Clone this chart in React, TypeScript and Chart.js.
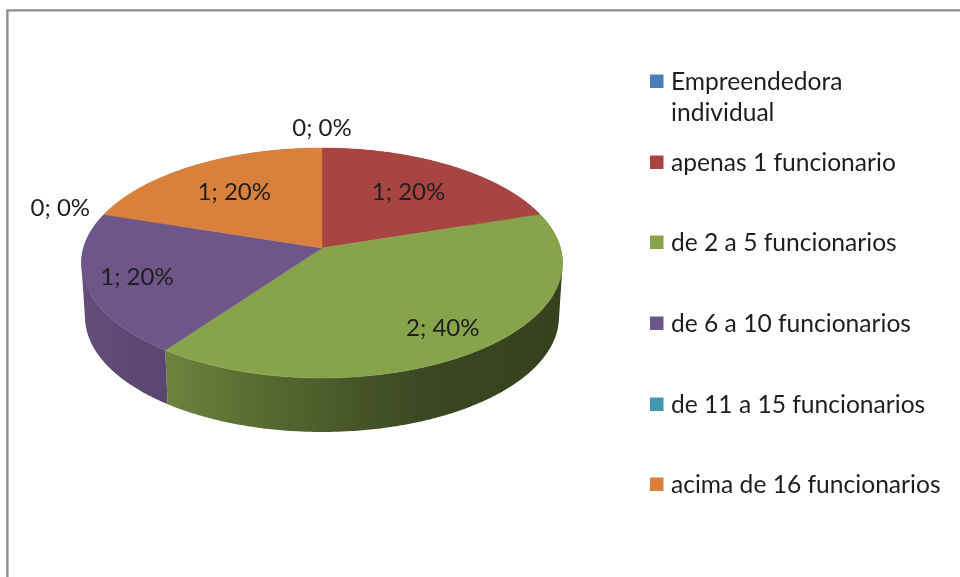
import { useEffect, useRef } from "react";
import { Chart, registerables } from "chart.js";

Chart.register(...registerables);

// Workforce-size categories and how many companies fall in each one.
const categories: (string | string[])[] = [
  ["Empreendedora", "individual"],
  "apenas 1 funcionario",
  "de 2 a 5 funcionarios",
  "de 6 a 10 funcionarios",
  "de 11 a 15 funcionarios",
  "acima de 16 funcionarios",
];
const companies = [0, 1, 2, 1, 0, 1];
const sliceColors = ["#4a7ebb", "#a84542", "#87a44c", "#6f5689", "#4198af", "#d9813c"];

const FONT = "Lato, 'Open Sans', sans-serif";
const TEXT_COLOR = "#1e1e1e";

// Perspective view of the flat pie: tilt flattens it, nearFactor enlarges the side facing the viewer.
const view = { squash: 0.4738, nearFactor: 0.1304, depth: 54, floorScale: 0.985 };
// Distance of each value label from the centre, as a share of the radius.
const labelReach = [1.24, 0.66, 0.79, 0.79, 1.21, 0.67];
// Brightness of the side wall from left to right.
const wallShade: [number, number][] = [
  [0, 0.9],
  [0.18, 0.8],
  [0.37, 0.65],
  [0.58, 0.52],
  [0.72, 0.43],
  [1, 0.4],
];

function shade(hex: string, f: number) {
  const n = parseInt(hex.slice(1), 16);
  const c = [(n >> 16) & 255, (n >> 8) & 255, n & 255].map((v) => Math.round(v * f));
  return `rgb(${c[0]},${c[1]},${c[2]})`;
}

const pie3d = {
  id: "pie3d",
  beforeDraw(chart: any) {
    // Sheet frame, open to the right and bottom.
    const { ctx, width, height } = chart;
    ctx.save();
    ctx.strokeStyle = "#8c8c8c";
    ctx.lineWidth = 2.4;
    ctx.beginPath();
    ctx.moveTo(7.4, height);
    ctx.lineTo(7.4, 10.4);
    ctx.lineTo(width, 10.4);
    ctx.stroke();
    ctx.restore();
  },
  beforeDatasetDraw(chart: any) {
    const { ctx } = chart;
    const arcs = chart.getDatasetMeta(0).data;
    const first = arcs[0].getProps(["x", "y", "outerRadius"]);
    const { x: cx, y: cy, outerRadius: R } = first;

    const project = (angle: number, reach: number, floor: boolean) => {
      const du = Math.cos(angle) * reach;
      const dv = Math.sin(angle) * reach;
      const w = 1 - view.nearFactor * dv;
      const scale = floor ? view.floorScale : 1;
      return {
        x: cx + (R * du * scale) / w,
        y: cy + (R * view.squash * dv) / w + (floor ? view.depth : 0),
      };
    };

    const sweep = (start: number, end: number, floor: boolean) => {
      const steps = Math.max(2, Math.ceil((end - start) / 0.01));
      const pts = [];
      for (let i = 0; i <= steps; i++) pts.push(project(start + ((end - start) * i) / steps, 1, floor));
      return pts;
    };

    const slices = arcs
      .map((arc: any, i: number) => ({ ...arc.getProps(["startAngle", "endAngle"]), i }))
      .filter((s: any) => s.endAngle > s.startAngle);

    // Side walls first, so the top surface covers what lies behind it.
    const left = cx - R;
    for (const s of slices) {
      const g = ctx.createLinearGradient(left, 0, cx + R, 0);
      for (const [at, f] of wallShade) g.addColorStop(at, shade(sliceColors[s.i], f));
      const top = sweep(s.startAngle, s.endAngle, false);
      const floor = sweep(s.startAngle, s.endAngle, true);
      ctx.beginPath();
      // The wall is one path of narrow quads, all wound the same way, so it fills without seams.
      for (let k = 0; k < top.length - 1; k++) {
        const quad = [top[k], top[k + 1], floor[k + 1], floor[k]];
        const area = quad.reduce((sum, p, j) => {
          const q = quad[(j + 1) % 4];
          return sum + p.x * q.y - q.x * p.y;
        }, 0);
        if (area < 0) quad.reverse();
        ctx.moveTo(quad[0].x, quad[0].y);
        for (let j = 1; j < 4; j++) ctx.lineTo(quad[j].x, quad[j].y);
        ctx.closePath();
      }
      ctx.fillStyle = g;
      ctx.fill();
    }

    // Top surface.
    const apex = project(0, 0, false);
    for (const s of slices) {
      ctx.beginPath();
      ctx.moveTo(apex.x, apex.y);
      sweep(s.startAngle, s.endAngle, false).forEach((p) => ctx.lineTo(p.x, p.y));
      ctx.closePath();
      ctx.fillStyle = sliceColors[s.i];
      ctx.strokeStyle = sliceColors[s.i];
      ctx.lineWidth = 0.5;
      ctx.fill();
      ctx.stroke();
    }

    // Value labels: "count; share".
    const total = companies.reduce((a, b) => a + b, 0);
    ctx.font = `24px ${FONT}`;
    ctx.fillStyle = TEXT_COLOR;
    ctx.textAlign = "center";
    ctx.textBaseline = "middle";
    arcs.forEach((arc: any, i: number) => {
      const { startAngle, endAngle } = arc.getProps(["startAngle", "endAngle"]);
      const p = project((startAngle + endAngle) / 2, labelReach[i], false);
      const share = Math.round((companies[i] / total) * 100);
      ctx.fillText(`${companies[i]}; ${share}%`, p.x, p.y + 1);
    });
    return false;
  },
  afterDraw(chart: any) {
    // Legend with evenly spaced rows; a wrapped entry keeps its tighter line pitch.
    const { ctx } = chart;
    ctx.save();
    ctx.font = `24.6px ${FONT}`;
    ctx.textAlign = "left";
    ctx.textBaseline = "middle";
    const rowY = [81, 162, 242, 323, 404, 484];
    categories.forEach((cat, i) => {
      const lines = Array.isArray(cat) ? cat : [cat];
      ctx.fillStyle = sliceColors[i];
      ctx.fillRect(650, rowY[i] - 6.5, 13.5, 13.5);
      ctx.fillStyle = TEXT_COLOR;
      lines.forEach((line, k) => ctx.fillText(line, 671, rowY[i] + 1 + k * 31));
    });
    ctx.restore();
  },
};

export default function App() {
  const ref = useRef<HTMLCanvasElement>(null);
  useEffect(() => {
    document.body.style.margin = "0";
    const chart = new Chart(ref.current as HTMLCanvasElement, {
      type: "pie",
      data: {
        labels: categories as any,
        datasets: [{ data: companies, backgroundColor: sliceColors, borderWidth: 0 }],
      },
      options: {
        responsive: false,
        animation: false,
        events: [],
        layout: { padding: { left: 83.5, right: 399.5, top: 9.5, bottom: 90.5 } },
        plugins: { legend: { display: false }, tooltip: { enabled: false } },
      },
      plugins: [pie3d],
    } as any);
    return () => chart.destroy();
  }, []);
  return (
    <div style={{ width: 960, height: 577, background: "#fff" }}>
      <canvas ref={ref} width={960} height={577} style={{ display: "block" }} />
    </div>
  );
}
